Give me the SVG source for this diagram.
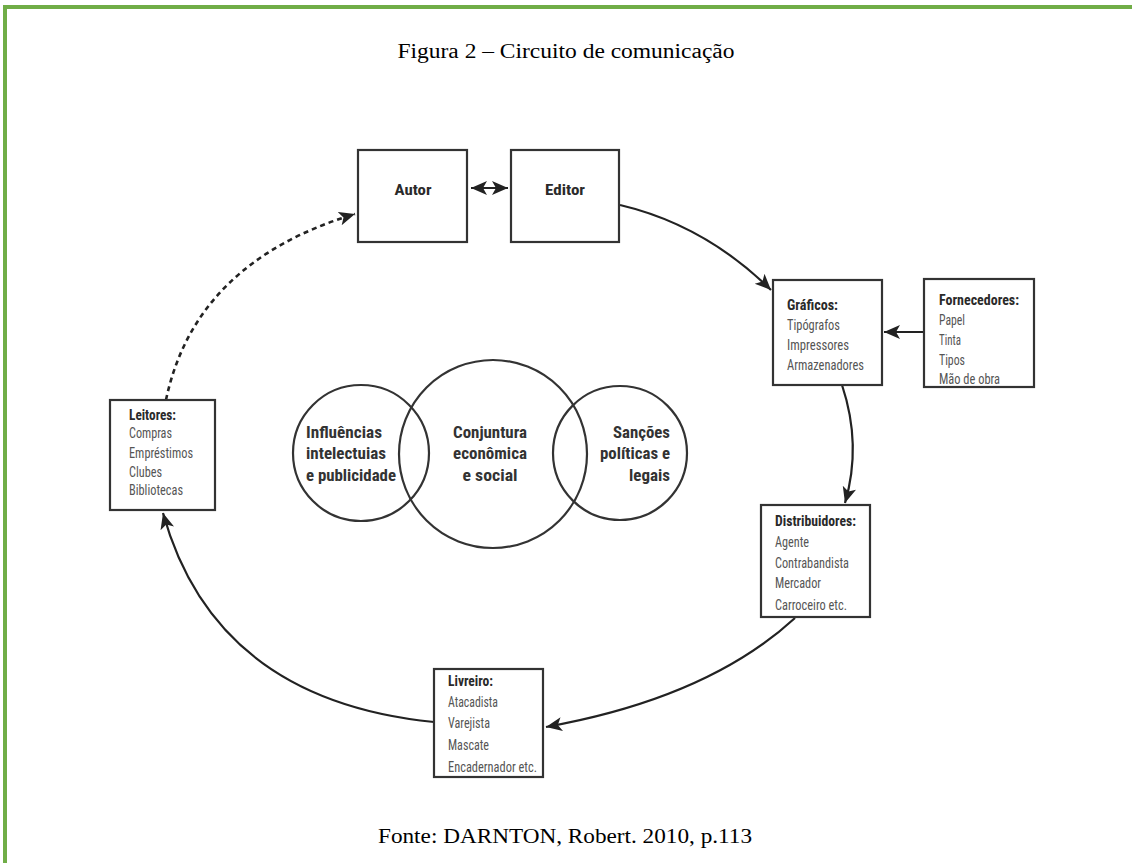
<svg xmlns="http://www.w3.org/2000/svg" width="1132" height="863" viewBox="0 0 1132 863">
<style>
.caption{font-family:"Liberation Serif","Times New Roman",serif;font-size:20px;fill:#000}
.box{fill:#fff;stroke:#333;stroke-width:2.2}
.circ{fill:none;stroke:#333;stroke-width:2.2}
.t{font-family:"Liberation Sans Narrow","Roboto Condensed","Liberation Sans",sans-serif;font-size:14px;fill:#555}
.h{font-family:"Liberation Sans Narrow","Roboto Condensed","Liberation Sans",sans-serif;font-size:14px;font-weight:bold;fill:#2a2a2a}
.big{font-family:"Liberation Sans Narrow","Roboto Condensed","Liberation Sans",sans-serif;font-size:17px;font-weight:bold;fill:#333}
.conn{fill:none;stroke:#222;stroke-width:2.2}
.dash{stroke-dasharray:5 4;stroke-width:2.6}
</style>
<defs>
<marker id="ah" markerUnits="userSpaceOnUse" markerWidth="18" markerHeight="16" refX="16" refY="7" orient="auto-start-reverse">
<path d="M0,0 L16,7 L0,14 L4,7 z" fill="#222"/>
</marker>
</defs>
<rect width="1132" height="863" fill="#fff"/>
<g id="frame">
<line x1="3" y1="7" x2="1132" y2="7" stroke="#70ad47" stroke-width="4"/>
<line x1="5" y1="5" x2="5" y2="863" stroke="#70ad47" stroke-width="4"/>
</g>
<text class="caption" x="566" y="58" text-anchor="middle" textLength="337" lengthAdjust="spacingAndGlyphs">Figura 2 – Circuito de comunicação</text>
<text class="caption" x="565" y="843" text-anchor="middle" textLength="374" lengthAdjust="spacingAndGlyphs">Fonte: DARNTON, Robert. 2010, p.113</text>

<g id="connectors">
<line class="conn" x1="471" y1="188" x2="508" y2="188" marker-start="url(#ah)" marker-end="url(#ah)"/>
<path class="conn" d="M620,205 Q705,225 771,290" marker-end="url(#ah)"/>
<path class="conn" d="M924,332 L884,332" marker-end="url(#ah)"/>
<path class="conn" d="M842,385 Q862,445 845,503" marker-end="url(#ah)"/>
<path class="conn" d="M795,618 Q708,698 546,727" marker-end="url(#ah)"/>
<path class="conn" d="M434,722 Q215,700 163,513" marker-end="url(#ah)"/>
<path class="conn dash" d="M166,400 Q195,262 355,214" marker-end="url(#ah)"/>
</g>

<g id="autor">
<rect class="box" x="358" y="150" width="109" height="92"/>
<text class="h" x="413" y="195" text-anchor="middle" font-size="16" textLength="37" lengthAdjust="spacingAndGlyphs">Autor</text>
</g>
<g id="editor">
<rect class="box" x="511" y="150" width="108" height="92"/>
<text class="h" x="565" y="195" text-anchor="middle" font-size="16" textLength="40" lengthAdjust="spacingAndGlyphs">Editor</text>
</g>

<g id="graficos">
<rect class="box" x="773" y="280" width="109" height="105"/>
<text class="h" x="787" y="310" textLength="51" lengthAdjust="spacingAndGlyphs">Gráficos:</text>
<text class="t" x="787" y="330" textLength="53" lengthAdjust="spacingAndGlyphs">Tipógrafos</text>
<text class="t" x="787" y="350" textLength="62" lengthAdjust="spacingAndGlyphs">Impressores</text>
<text class="t" x="787" y="370" textLength="77" lengthAdjust="spacingAndGlyphs">Armazenadores</text>
</g>

<g id="fornecedores">
<rect class="box" x="924" y="279" width="110" height="108"/>
<text class="h" x="939" y="305" textLength="80" lengthAdjust="spacingAndGlyphs">Fornecedores:</text>
<text class="t" x="939" y="325" textLength="26" lengthAdjust="spacingAndGlyphs">Papel</text>
<text class="t" x="939" y="345" textLength="22" lengthAdjust="spacingAndGlyphs">Tinta</text>
<text class="t" x="939" y="365" textLength="26" lengthAdjust="spacingAndGlyphs">Tipos</text>
<text class="t" x="939" y="384" textLength="61" lengthAdjust="spacingAndGlyphs">Mão de obra</text>
</g>

<g id="distribuidores">
<rect class="box" x="761" y="505" width="109" height="112"/>
<text class="h" x="775" y="526" textLength="81" lengthAdjust="spacingAndGlyphs">Distribuidores:</text>
<text class="t" x="775" y="547" textLength="34" lengthAdjust="spacingAndGlyphs">Agente</text>
<text class="t" x="775" y="568" textLength="74" lengthAdjust="spacingAndGlyphs">Contrabandista</text>
<text class="t" x="775" y="588" textLength="46" lengthAdjust="spacingAndGlyphs">Mercador</text>
<text class="t" x="775" y="610" textLength="72" lengthAdjust="spacingAndGlyphs">Carroceiro etc.</text>
</g>

<g id="livreiro">
<rect class="box" x="434" y="669" width="109" height="108"/>
<text class="h" x="448" y="686" textLength="45" lengthAdjust="spacingAndGlyphs">Livreiro:</text>
<text class="t" x="448" y="707" textLength="50" lengthAdjust="spacingAndGlyphs">Atacadista</text>
<text class="t" x="448" y="728" textLength="42" lengthAdjust="spacingAndGlyphs">Varejista</text>
<text class="t" x="448" y="750" textLength="41" lengthAdjust="spacingAndGlyphs">Mascate</text>
<text class="t" x="448" y="772" textLength="89" lengthAdjust="spacingAndGlyphs">Encadernador etc.</text>
</g>

<g id="leitores">
<rect class="box" x="110" y="400" width="105" height="110"/>
<text class="h" x="129" y="420" textLength="47" lengthAdjust="spacingAndGlyphs">Leitores:</text>
<text class="t" x="129" y="438" textLength="43" lengthAdjust="spacingAndGlyphs">Compras</text>
<text class="t" x="129" y="458" textLength="64" lengthAdjust="spacingAndGlyphs">Empréstimos</text>
<text class="t" x="129" y="477" textLength="33" lengthAdjust="spacingAndGlyphs">Clubes</text>
<text class="t" x="129" y="495" textLength="54" lengthAdjust="spacingAndGlyphs">Bibliotecas</text>
</g>

<g id="influencias">
<circle class="circ" cx="361" cy="453" r="68"/>
<text class="big" x="306" y="438" textLength="76" lengthAdjust="spacingAndGlyphs">Influências</text>
<text class="big" x="306" y="459" textLength="80" lengthAdjust="spacingAndGlyphs">intelectuias</text>
<text class="big" x="306" y="481" textLength="90" lengthAdjust="spacingAndGlyphs">e publicidade</text>
</g>
<g id="conjuntura">
<circle class="circ" cx="493" cy="454" r="94"/>
<text class="big" x="490" y="438" text-anchor="middle" textLength="74" lengthAdjust="spacingAndGlyphs">Conjuntura</text>
<text class="big" x="490" y="459" text-anchor="middle" textLength="74" lengthAdjust="spacingAndGlyphs">econômica</text>
<text class="big" x="490" y="481" text-anchor="middle" textLength="55" lengthAdjust="spacingAndGlyphs">e social</text>
</g>
<g id="sancoes">
<circle class="circ" cx="620" cy="453" r="67"/>
<text class="big" x="670" y="438" text-anchor="end" textLength="57" lengthAdjust="spacingAndGlyphs">Sanções</text>
<text class="big" x="670" y="459" text-anchor="end" textLength="70" lengthAdjust="spacingAndGlyphs">políticas e</text>
<text class="big" x="670" y="481" text-anchor="end" textLength="41" lengthAdjust="spacingAndGlyphs">legais</text>
</g>
</svg>
